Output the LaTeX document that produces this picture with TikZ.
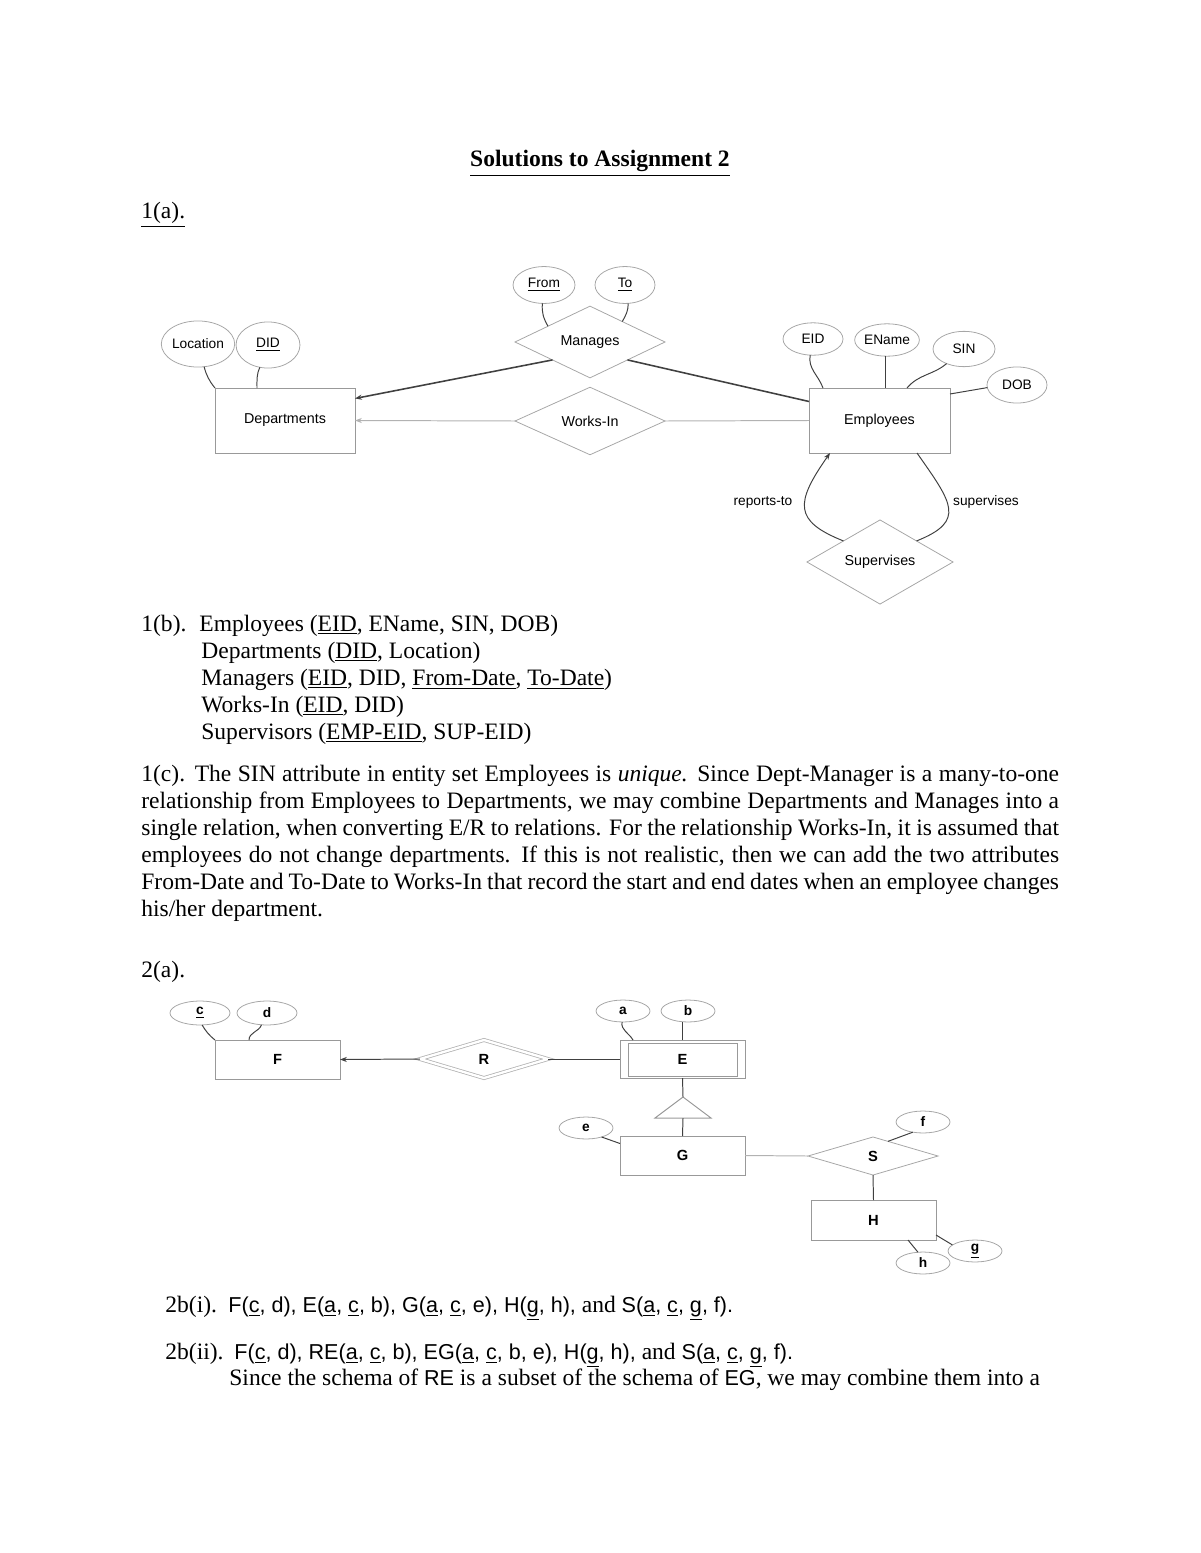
\documentclass[tikz,border=0pt]{standalone}
\usepackage{fontspec}
\setmainfont{Liberation Serif}
\setsansfont{Liberation Sans}
\usetikzlibrary{shapes.geometric,arrows.meta,calc}
\newcommand\sfx[1]{{\sffamily\fontsize{11}{13}\selectfont #1}}
\begin{document}
\begin{tikzpicture}[x=0.51pt,y=-0.51pt,
  ent/.style={draw=gray!80, line width=0.5pt, inner sep=0pt, outer sep=0pt, font=\sffamily\fontsize{7.3}{8}\selectfont},
  entb/.style={ent, font=\sffamily\bfseries\fontsize{7.5}{8}\selectfont},
  attr/.style={ellipse, draw=gray!70, line width=0.4pt, inner sep=0pt, outer sep=0pt, font=\sffamily\fontsize{7}{8}\selectfont},
  attrb/.style={attr, font=\sffamily\bfseries\fontsize{7}{8}\selectfont},
  rel/.style={diamond, draw=gray!70, line width=0.4pt, inner sep=0pt, outer sep=0pt, font=\sffamily\fontsize{7.3}{8}\selectfont},
  relb/.style={rel, font=\sffamily\bfseries\fontsize{7.5}{8}\selectfont},
  conn/.style={line width=0.5pt, black!75},
  lconn/.style={line width=0.5pt, gray!60},
  tip/.style={-{Stealth[length=3.5pt,width=2.6pt]}},
  lbl/.style={inner sep=0pt, font=\sffamily\fontsize{7}{8}\selectfont},
  txt/.style={anchor=base west, inner sep=0pt, font=\fontsize{12}{14}\selectfont},
]
\useasboundingbox (0,0) rectangle (1200,1553);

% ---------------- text -----------------
\node[txt, anchor=base, font=\bfseries\fontsize{12}{14}\selectfont] (title) at (600,167) {\underline{Solutions to Assignment 2}};
\node[txt] (t1a) at (141,219) {\underline{1(a).}};

% ---------------- diagram 1 -----------------
\node[ent, minimum width=71.4pt, minimum height=33.15pt] (dept) at (285,420.5) {Departments};
\node[ent, minimum width=71.9pt, minimum height=33.15pt] (emp) at (879.5,420.5) {Employees};
\node[rel, minimum width=76.5pt, minimum height=31.1pt] (mng) at (590,342) {Manages};
\node[rel, minimum width=76.5pt, minimum height=31.6pt] (wrk) at (590,421) {Works-In};
\node[rel, minimum width=74.5pt, minimum height=32.6pt] (sup) at (880,562) {Supervises};

\node[attr, minimum width=33pt, minimum height=23.5pt] (loc) at (198,344) {Location};
\node[attr, minimum width=32.6pt, minimum height=23.5pt] (did) at (268,345) {\underline{DID}};
\node[attr, minimum width=31.6pt, minimum height=18.8pt] (from) at (544,285) {\underline{From}};
\node[attr, minimum width=30.6pt, minimum height=18.8pt] (to) at (625,285) {\underline{To}};
\node[attr, minimum width=30.6pt, minimum height=16.5pt] (eid) at (813,339) {EID};
\node[attr, minimum width=31.6pt, minimum height=16.5pt] (ena) at (887,340) {EName};
\node[attr, minimum width=31.6pt, minimum height=18pt] (sin) at (964,349) {SIN};
\node[attr, minimum width=30.6pt, minimum height=18.4pt] (dob) at (1017,385) {DOB};

\draw[conn] (loc.-75) to[bend right=12] (dept.north west);
\draw[conn] (did.-110) to[out=-115,in=90] ([shift={(42,0)}]dept.north west);
\draw[conn] (from.-95) to[out=-95,in=120] ($(mng.west)!0.44!(mng.north)$);
\draw[conn] (to.-80) to[out=-90,in=60] ($(mng.north)!0.43!(mng.east)$);
\draw[conn] (eid.-100) to[out=-100,in=110] ([shift={(14,0)}]emp.north west);
\draw[conn] (ena.-95) -- (ena.-95 |- emp.north);
\draw[conn] (sin.-140) to[out=-140,in=50] ([shift={(98,0)}]emp.north west);
\draw[conn] (dob.185) -- ([shift={(0,6)}]emp.north east);

\draw[conn, line width=0.8pt, tip] (mng.south west) -- ([shift={(0,-22)}]dept.east);
\draw[conn, line width=0.8pt] (mng.south east) -- ([shift={(0,-19)}]emp.west);
\draw[lconn, tip] (wrk.west) -- (dept.east);
\draw[lconn] (wrk.east) -- (emp.west);

\draw[conn, tip] (sup.north west) .. controls +(-50,-20) and +(-35,50) .. ([shift={(21,0)}]emp.south west);
\draw[conn] (sup.north east) .. controls +(50,-20) and +(35,50) .. ([shift={(-33,0)}]emp.south east);
\node[lbl] (rto) at (763,502) {reports-to};
\node[lbl] (sps) at (986,502) {supervises};

% ---------------- 1(b) -----------------
\node[txt] (t1b) at (141,631) {1(b).};
\node[txt] (b1) at (199,631) {Employees (\underline{EID}, EName, SIN, DOB)};
\node[txt] (b2) at (201,658) {Departments (\underline{DID}, Location)};
\node[txt] (b3) at (201,685) {Managers (\underline{EID}, DID, \underline{From-Date}, \underline{To-Date})};
\node[txt] (b4) at (201,712) {Works-In (\underline{EID}, DID)};
\node[txt] (b5) at (201,739) {Supervisors (\underline{EMP-EID}, SUP-EID)};

% ---------------- 1(c) -----------------
\node[txt] (c1) at (141,781) {\makebox[468pt][s]{1(c). The SIN attribute in entity set Employees is \textit{unique.} Since Dept-Manager is a many-to-one}};
\node[txt] (c2) at (141,808) {\makebox[468pt][s]{relationship from Employees to Departments, we may combine Departments and Manages into a}};
\node[txt] (c3) at (141,835) {\makebox[468pt][s]{single relation, when converting E/R to relations. For the relationship Works-In, it is assumed that}};
\node[txt] (c4) at (141,862) {\makebox[468pt][s]{employees do not change departments. If this is not realistic, then we can add the two attributes}};
\node[txt] (c5) at (141,889) {\makebox[468pt][s]{From-Date and To-Date to Works-In that record the start and end dates when an employee changes}};
\node[txt] (c6) at (141,916) {his/her department.};

\node[txt] (t2a) at (141,977) {2(a).};

% ---------------- diagram 2 -----------------
\node[entb, minimum width=63.75pt, minimum height=19.9pt] (F) at (277.5,1059.5) {F};
\node[relb, minimum width=65.3pt, minimum height=19.4pt, draw=gray!60, double, double distance=1.2pt] (R) at (484,1059) {R};
\node[entb, minimum width=63.75pt, minimum height=19.4pt] (E) at (682.5,1059) {E};
\draw[gray!80, line width=0.5pt] ([shift={(8,3)}]E.north west) rectangle ([shift={(-8,-2)}]E.south east);
\node[entb, minimum width=63.75pt, minimum height=19.9pt] (G) at (682.5,1155.5) {G};
\node[relb, minimum width=66.3pt, minimum height=19.4pt] (S) at (873,1156) {S};
\node[entb, minimum width=63.75pt, minimum height=20.4pt] (H) at (873.5,1220) {H};

\node[attrb, minimum width=30.6pt, minimum height=12.2pt] (ac) at (200,1013) {\underline{c}};
\node[attrb, minimum width=30.6pt, minimum height=12.2pt] (ad) at (267,1013) {d};
\node[attrb, minimum width=27.5pt, minimum height=11.2pt] (aa) at (623,1011) {a};
\node[attrb, minimum width=27.5pt, minimum height=11.2pt] (ab) at (688,1011) {b};
\node[attrb, minimum width=27.5pt, minimum height=11.2pt] (ae) at (586,1128) {e};
\node[attrb, minimum width=27.5pt, minimum height=11.2pt] (af) at (923,1122) {f};
\node[attrb, minimum width=27.5pt, minimum height=11.2pt] (ah) at (923,1263) {h};
\node[attrb, minimum width=27.5pt, minimum height=11.2pt] (ag) at (975,1251) {\underline{g}};

\coordinate (isaT) at (683,1097);
\coordinate (isaB) at (683,1118);
\draw[gray!80, line width=0.5pt] (isaT) -- (655,1118) -- (711,1118) -- cycle;

\draw[conn] (ac.-80) to[bend right=10] (F.north west);
\draw[conn] (ad.-115) to[out=-110,in=90] ([shift={(34,0)}]F.north west);
\draw[conn] (aa.-95) to[out=-100,in=120] ([shift={(13,0)}]E.north west);
\draw[conn] (ab.-115) -- (ab.-115 |- E.north);
\draw[conn] (ae.-30) -- ([shift={(0,-12)}]G.west);
\draw[conn] (af.-135) -- ($(S.north)!0.23!(S.east)$);
\draw[conn] (ah.115) -- ([shift={(34.5,0)}]H.south);
\draw[conn] (ag.165) -- ([shift={(0,-5)}]H.south east);

\draw[conn, tip] (R.west) -- (F.east);
\draw[conn] (R.east) -- (E.west);
\draw[conn] (E.south) -- (isaT);
\draw[conn] (isaB) -- (G.north);
\draw[lconn] (G.east) -- (S.west);
\draw[conn] (S.south) -- (H.north);

% ---------------- 2(b) -----------------
\node[txt] (bi) at (165,1312) {2b(i).};
\node[txt] (bi2) at (228,1312) {\sfx{F(\underline{c}, d), E(\underline{a}, \underline{c}, b), G(\underline{a}, \underline{c}, e), H(\underline{g}, h),} and \sfx{S(\underline{a}, \underline{c}, \underline{g}, f).}};
\node[txt] (bii) at (165,1359) {2b(ii).};
\node[txt] (bii2) at (234,1359) {\sfx{F(\underline{c}, d), RE(\underline{a}, \underline{c}, b), EG(\underline{a}, \underline{c}, b, e), H(\underline{g}, h),} and \sfx{S(\underline{a}, \underline{c}, \underline{g}, f).}};
\node[txt] (since) at (229,1385) {Since the schema of \sfx{RE} is a subset of the schema of \sfx{EG}, we may combine them into a};
\end{tikzpicture}
\end{document}
